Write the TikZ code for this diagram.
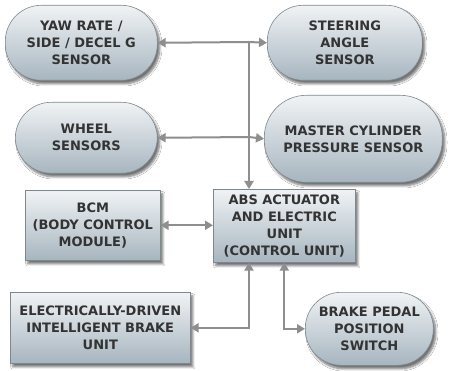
\documentclass[tikz,border=0pt]{standalone}
\usepackage{fontspec}
\setmainfont{DejaVu Sans}
\usetikzlibrary{arrows.meta,shadows.blur,calc}
\definecolor{boxtop}{HTML}{F0F3F5}
\definecolor{boxbot}{HTML}{A7B5BF}
\definecolor{boxline}{HTML}{7E878E}
\definecolor{wire}{HTML}{8E8E8E}
\definecolor{ink}{HTML}{333333}
\tikzset{
  unit/.style={draw=boxline, line width=0.6pt, top color=boxtop, bottom color=boxbot,
    blur shadow={shadow xshift=2.5pt, shadow yshift=-3.5pt, shadow blur steps=6, shadow opacity=55},
    font=\bfseries\fontsize{13}{17}\selectfont, text=ink, align=center,
    inner sep=0pt, anchor=north west},
  sensor/.style={unit, rounded corners=36pt},
  wirepath/.style={draw=wire, line width=2pt},
  tip/.style={-{Triangle[width=9pt,length=8pt]}},
  tips/.style={{Triangle[width=9pt,length=8pt]}-{Triangle[width=9pt,length=8pt]}},
}
\begin{document}
\begin{tikzpicture}[x=1pt,y=-1pt]
\useasboundingbox[fill=white] (0,0) rectangle (454,371);

% sensors and units
\node[sensor, minimum width=152pt, minimum height=75pt] (yaw) at (5,5)
  {YAW RATE /\\SIDE / DECEL G\\SENSOR};
\node[sensor, minimum width=155pt, minimum height=75pt] (steer) at (267,5)
  {STEERING\\ANGLE\\SENSOR};
\node[sensor, minimum width=142pt, minimum height=71pt] (wheel) at (15,102)
  {WHEEL\\SENSORS};
\node[sensor, minimum width=178pt, minimum height=87pt, rounded corners=42pt] (master) at (264,95)
  {MASTER CYLINDER\\PRESSURE SENSOR};
\node[unit, minimum width=135pt, minimum height=70pt] (bcm) at (25,190)
  {BCM\\(BODY CONTROL\\MODULE)};
\node[unit, minimum width=142pt, minimum height=73pt] (abs) at (213,189)
  {ABS ACTUATOR\\AND ELECTRIC\\UNIT\\(CONTROL UNIT)};
\node[unit, minimum width=180pt, minimum height=71pt] (eib) at (10,292)
  {ELECTRICALLY-DRIVEN\\INTELLIGENT BRAKE\\UNIT};
\node[sensor, minimum width=128pt, minimum height=73pt] (brake) at (305,292)
  {BRAKE PEDAL\\POSITION\\SWITCH};

% bus junctions
\coordinate (j1) at (249,42);
\coordinate (j2) at (249,137);

% sensor bus
\draw[wirepath, tip] (j1) -- (yaw.east);
\draw[wirepath, tip] (j1) -- (steer.west);
\draw[wirepath, tip] (j2) -- (wheel.east);
\draw[wirepath, tip] (j2) -- (master.west);
\draw[wirepath, tip] (j1) -- (j1 |- abs.north);

% control unit links
\draw[wirepath, tips] (bcm.east) -- (bcm.east -| abs.west);
\draw[wirepath, tips] (j1 |- abs.south) |- (eib.east);
\draw[wirepath, tips] (abs.south) |- (brake.west);
\end{tikzpicture}
\end{document}
